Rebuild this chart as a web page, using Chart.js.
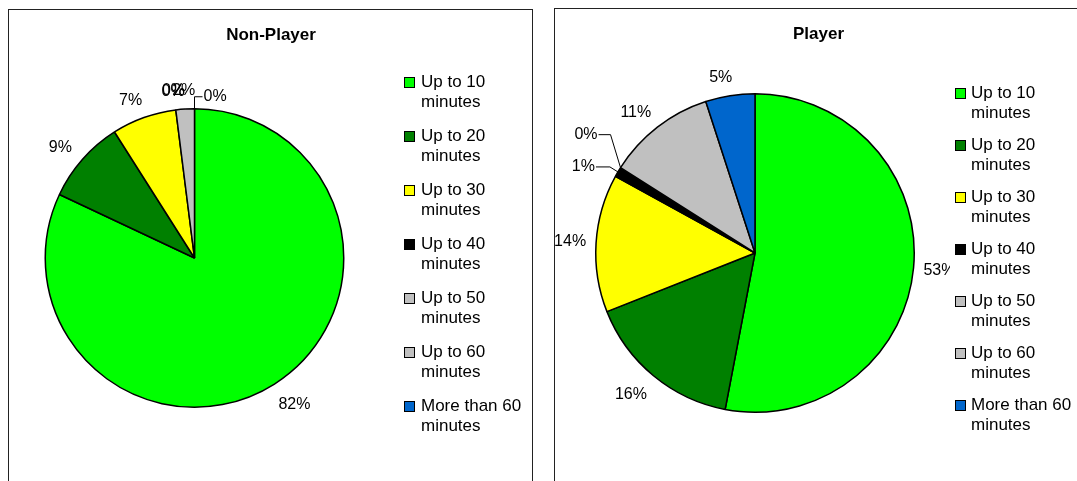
<!DOCTYPE html>
<html>
<head>
<meta charset="utf-8">
<script src="https://cdn.jsdelivr.net/npm/chart.js@4"></script>
<style>
  body { margin: 0; background: #fff; width: 1077px; height: 481px; overflow: hidden; position: relative; }
  .panel { position: absolute; border: 1px solid #222; background: #fff; }
  #left { left: 8px; top: 9px; width: 523px; height: 490px; }
  #right { left: 554px; top: 8px; width: 540px; height: 490px; }
  canvas { display: block; }
</style>
</head>
<body>
<div class="panel" id="left"><canvas id="nonPlayer" width="523" height="480"></canvas></div>
<div class="panel" id="right"><canvas id="player" width="540" height="480"></canvas></div>
<script>
const categories = ['Up to 10 minutes', 'Up to 20 minutes', 'Up to 30 minutes', 'Up to 40 minutes',
                    'Up to 50 minutes', 'Up to 60 minutes', 'More than 60 minutes'];
const sliceColors = ['#00ff00', '#008000', '#ffff00', '#000000', '#c0c0c0', '#c0c0c0', '#0066cc'];

// share of each group, percent
const nonPlayerShare = [82, 9, 7, 0, 2, 0, 0];
const playerShare = [53, 16, 14, 1, 0, 11, 5];

const FONT = '"Liberation Sans", Arial, sans-serif';

// "Up to 10 minutes" -> ["Up to 10", "minutes"]
function wrapLabel(s) {
  const i = s.lastIndexOf(' ');
  return [s.slice(0, i), s.slice(i + 1)];
}

// percent labels (some with leader lines), title and a two-line legend
const pieExtras = {
  id: 'pieExtras',
  afterDatasetsDraw(chart, args, opts) {
    const ctx = chart.ctx;
    const meta = chart.getDatasetMeta(0);
    const values = chart.data.datasets[0].data;
    const total = values.reduce((a, b) => a + b, 0);

    ctx.save();
    ctx.font = '16px ' + FONT;
    ctx.fillStyle = '#000';
    ctx.strokeStyle = '#000';
    ctx.lineWidth = 1;
    ctx.textBaseline = 'middle';
    meta.data.forEach((arc, i) => {
      const { x, y, startAngle, endAngle, outerRadius } =
        arc.getProps(['x', 'y', 'startAngle', 'endAngle', 'outerRadius'], true);
      const mid = (startAngle + endAngle) / 2;
      const cos = Math.cos(mid), sin = Math.sin(mid);
      const text = Math.round(values[i] / total * 100) + '%';
      const lead = opts.leaders[i];
      if (lead) {
        const ex = x + cos * outerRadius, ey = y + sin * outerRadius;
        const bx = ex + lead.dx, by = ey + lead.dy;
        const tx = bx + lead.run;
        ctx.beginPath();
        ctx.moveTo(ex, ey);
        ctx.lineTo(bx, by);
        ctx.lineTo(tx, by);
        ctx.stroke();
        ctx.textAlign = lead.run > 0 ? 'left' : 'right';
        ctx.fillText(text, tx + Math.sign(lead.run), by);
      } else {
        // keep the text box just outside the rim
        const hw = ctx.measureText(text).width / 2;
        const hh = sin > 0 ? 14 : 8;
        const side = Math.abs(cos) > 0.14 && Math.abs(cos) < 0.9 ? Math.sign(cos) * 6 : 0;
        const d = outerRadius + opts.labelGap;
        const nudge = opts.nudges[i] || { dx: 0, dy: 0 };
        ctx.textAlign = 'center';
        ctx.fillText(text, x + cos * (d + hw) + side + nudge.dx, y + sin * (d + hh) + nudge.dy);
      }
    });

    // title
    ctx.font = 'bold 17px ' + FONT;
    ctx.textAlign = 'center';
    ctx.fillText(opts.title.text, opts.title.x, opts.title.y);

    // legend, on its own white box
    const lg = opts.legend;
    const colors = chart.data.datasets[0].backgroundColor;
    const n = chart.data.labels.length;
    ctx.fillStyle = '#fff';
    ctx.fillRect(lg.x - 5, lg.y - 10, chart.width, n * lg.step + 10);
    ctx.font = '17px ' + FONT;
    ctx.textAlign = 'left';
    chart.data.labels.forEach((label, i) => {
      const top = lg.y + i * lg.step;
      const lines = wrapLabel(label);
      ctx.fillStyle = colors[i];
      ctx.fillRect(lg.x, top, 10, 10);
      ctx.strokeRect(lg.x + 0.5, top + 0.5, 10, 10);
      ctx.fillStyle = '#000';
      ctx.fillText(lines[0], lg.x + lg.indent, top + 5);
      ctx.fillText(lines[1], lg.x + lg.indent, top + 25);
    });
    ctx.restore();
  }
};

function makePie(id, values, extras, padding) {
  return new Chart(document.getElementById(id), {
    type: 'pie',
    data: {
      labels: categories,
      datasets: [{
        data: values,
        backgroundColor: sliceColors,
        borderColor: '#000',
        borderWidth: 1.5
      }]
    },
    options: {
      responsive: false,
      animation: false,
      events: [],
      layout: { padding },
      plugins: {
        legend: { display: false },
        tooltip: { enabled: false },
        pieExtras: extras
      }
    },
    plugins: [pieExtras]
  });
}

makePie('nonPlayer', nonPlayerShare, {
  labelGap: 10,
  leaders: { 6: { dx: 0, dy: -12, run: 8 } },
  nudges: { 5: { dx: -21, dy: 0 } },
  title: { text: 'Non-Player', x: 262, y: 25 },
  legend: { x: 395, y: 67, step: 54, indent: 17 }
}, { left: 35.5, top: 98, right: 187.5, bottom: 82 });

makePie('player', playerShare, {
  labelGap: 10,
  leaders: {
    3: { dx: -8, dy: -5, run: -14 },
    4: { dx: -10, dy: -33, run: -12 }
  },
  nudges: {},
  title: { text: 'Player', x: 263.5, y: 25 },
  legend: { x: 400, y: 79, step: 52, indent: 16 }
}, { left: 40, top: 84, right: 180, bottom: 76 });
</script>
</body>
</html>
